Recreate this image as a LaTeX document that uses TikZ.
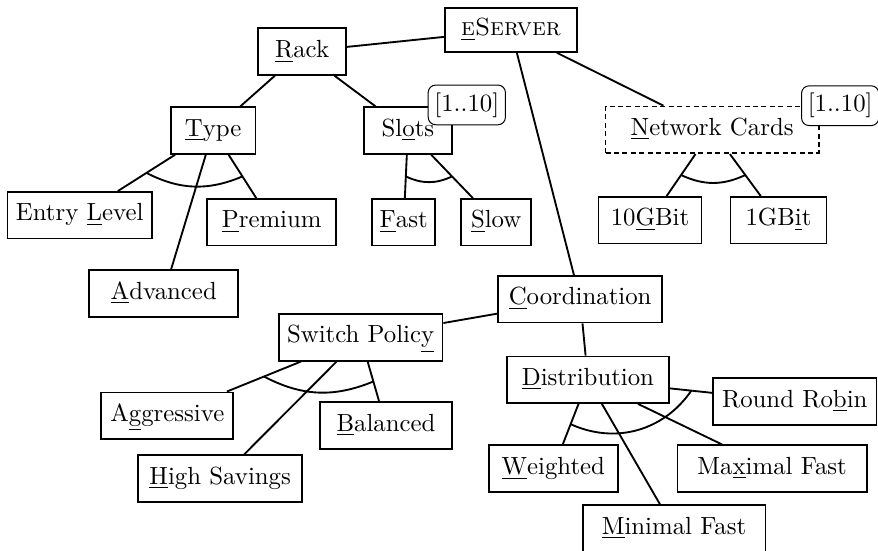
\documentclass[tikz,border=0pt]{standalone}
\usepackage{tikz}
\usetikzlibrary{calc,positioning}
\tikzset{
  feature/.style={draw, line width=0.7pt, align=center, inner sep=3pt,
                  minimum height=6.6mm, text height=7pt, text depth=2.5pt},
  abstract/.style={feature, dash pattern=on 2pt off 1.4pt},
  card/.style={draw, thin, fill=white, rounded corners=3pt,
               inner xsep=2.5pt, inner ysep=3pt},
  edge/.style={line width=0.75pt},
  group/.style={line width=0.75pt},
}

\begin{document}
\begin{tikzpicture}
  \useasboundingbox (0,0) rectangle (12.44,-7.80);

  % top levels
  \node[feature, minimum height=6.2mm, minimum width=18.7mm] (eserver) at (7.24,-0.425) {\textsc{\underline{e}Server}};
  \node[feature, minimum width=12.5mm] (rack)     at (4.28,-0.73) {\underline{R}ack};
  \node[feature, minimum width=12mm]   (type)     at (3.02,-1.85) {\underline{T}ype};
  \node[feature, minimum width=12.5mm] (slots)    at (5.78,-1.85) {Sl\underline{o}ts};
  \node[abstract, minimum width=30.2mm] (netcards) at (10.09,-1.84) {\underline{N}etwork Cards};

  \node[feature, minimum width=20.5mm] (entry)    at (1.13,-3.05) {Entry \underline{L}evel};
  \node[feature, minimum width=18.3mm] (premium)  at (3.85,-3.15) {\underline{P}remium};
  \node[feature, minimum width=8.9mm]  (fast)     at (5.72,-3.15) {\underline{F}ast};
  \node[feature, minimum width=9.9mm]  (slow)     at (7.03,-3.15) {\underline{S}low};
  \node[feature, minimum width=14.6mm] (gbit10)   at (9.21,-3.12) {10\underline{G}Bit};
  \node[feature, minimum width=13.6mm] (gbit1)    at (11.03,-3.12) {1GB\underline{i}t};
  \node[feature, minimum width=21.1mm] (advanced) at (2.32,-4.16) {\underline{A}dvanced};

  % coordination subtree
  \node[feature, minimum width=23.2mm] (coord)    at (8.22,-4.24) {\underline{C}oordination};
  \node[feature, minimum width=23.2mm] (switch)   at (5.11,-4.78) {Switch Polic\underline{y}};
  \node[feature, minimum width=23mm]   (distrib)  at (8.33,-5.38) {\underline{D}istribution};
  \node[feature, minimum width=23.2mm] (robin)    at (11.26,-5.69) {Round Ro\underline{b}in};
  \node[feature, minimum width=18.7mm] (aggr)     at (2.37,-5.89) {A\underline{g}gressive};
  \node[feature, minimum width=18.7mm] (balanced) at (5.47,-6.03) {\underline{B}alanced};
  \node[feature, minimum width=18.3mm] (weighted) at (7.84,-6.64) {\underline{W}eighted};
  \node[feature, minimum width=26.8mm] (maximal)  at (10.94,-6.64) {Ma\underline{x}imal Fast};
  \node[feature, minimum width=23.2mm] (savings)  at (3.12,-6.78) {\underline{H}igh Savings};
  \node[feature, minimum width=25.9mm] (minimal)  at (9.55,-7.49) {\underline{M}inimal Fast};

  \foreach \a/\b in {eserver/rack, eserver/netcards, eserver/coord,
                     rack/type, rack/slots, type/entry, type/advanced, type/premium,
                     slots/fast, slots/slow, netcards/gbit10, netcards/gbit1,
                     coord/switch, coord/distrib,
                     switch/aggr, switch/savings, switch/balanced,
                     distrib/weighted, distrib/minimal, distrib/maximal, distrib/robin}
    \draw[edge] (\a) -- (\b);

  % alternative groups
  \foreach \p/\l/\r/\bend in {type/entry/premium/25, slots/fast/slow/25,
                              netcards/gbit10/gbit1/25, switch/aggr/balanced/25,
                              distrib/weighted/robin/40}
    \draw[group] ($(\p)!0.5!(\l)$) to[bend right=\bend] ($(\p)!0.5!(\r)$);

  % cardinalities
  \node[card] (slotscard) at ([xshift=5.6pt,yshift=0.6pt]slots.north east) {[1..10]};
  \node[card] (netcard)   at ([xshift=8.3pt]netcards.north east) {[1..10]};
\end{tikzpicture}
\end{document}
